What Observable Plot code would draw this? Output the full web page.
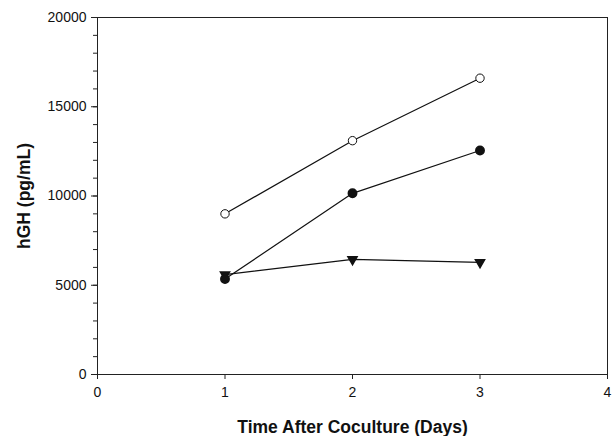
<!DOCTYPE html>
<html><head><meta charset="utf-8">
<script src="https://cdn.jsdelivr.net/npm/d3@7"></script>
<script src="https://cdn.jsdelivr.net/npm/@observablehq/plot@0.6"></script>
<style>body{margin:0;background:#fff;font-family:"Liberation Sans",Arial,sans-serif}</style>
</head><body><div id="chart"></div>
<script>
const days = [1, 2, 3];
const openCircle = [9000, 13100, 16600];
const filledCircle = [5350, 10150, 12550];
const triangle = [5600, 6450, 6280];
const xTicks = [0, 1, 2, 3, 4];
const yTicks = [0, 5000, 10000, 15000, 20000];
const yMinor = d3.range(0, 20001, 1000);

const mk = (vals, name) => days.map((d, i) => ({day: d, value: vals[i], series: name}));
const sOpen = mk(openCircle, "open");
const sFilled = mk(filledCircle, "filled");
const sTri = mk(triangle, "tri");

const chart = Plot.plot({
  width: 614, height: 436,
  marginLeft: 97, marginRight: 7, marginTop: 17, marginBottom: 62,
  style: {fontFamily: '"Liberation Sans", Arial, sans-serif', fontSize: "14px", color: "#111", background: "#fff"},
  x: {domain: [0, 4]},
  y: {domain: [0, 20000]},
  marks: [
    Plot.frame({stroke: "#222", strokeWidth: 1}),
    Plot.axisY(yMinor, {tickSize: 4, text: null, stroke: "#222", label: null}),
    Plot.axisY({ticks: yTicks, tickSize: 6, tickPadding: 5, tickFormat: d => String(d), stroke: "#222",
      label: "hGH (pg/mL)", labelAnchor: "center", labelArrow: "none", labelOffset: 80}),
    Plot.axisX({ticks: xTicks, tickSize: 5, tickPadding: 8, tickFormat: d => String(d), stroke: "#222",
      label: "Time After Coculture (Days)", labelAnchor: "center", labelArrow: "none", labelOffset: 58}),
    Plot.line(sOpen, {x: "day", y: "value", stroke: "#111", strokeWidth: 1.2}),
    Plot.line(sFilled, {x: "day", y: "value", stroke: "#111", strokeWidth: 1.2}),
    Plot.line(sTri, {x: "day", y: "value", stroke: "#111", strokeWidth: 1.2}),
    Plot.dot(sTri, {x: "day", y: "value", symbol: "triangle", rotate: 180, r: 3.4, fill: "#111", stroke: "#111"}),
    Plot.dot(sFilled, {x: "day", y: "value", r: 4.2, fill: "#111", stroke: "#111"}),
    Plot.dot(sOpen, {x: "day", y: "value", r: 4.2, fill: "#fff", stroke: "#111", strokeWidth: 1})
  ]
});
chart.querySelectorAll('g[aria-label="y-axis tick label"], g[aria-label="x-axis tick label"]').forEach(g => {
  g.setAttribute("font-size", "14");
});
chart.querySelectorAll('g[aria-label="y-axis label"] text, g[aria-label="x-axis label"] text').forEach(t => {
  t.setAttribute("font-weight", "bold"); t.setAttribute("font-size", "17.5");
});
document.getElementById("chart").append(chart);
</script></body></html>
